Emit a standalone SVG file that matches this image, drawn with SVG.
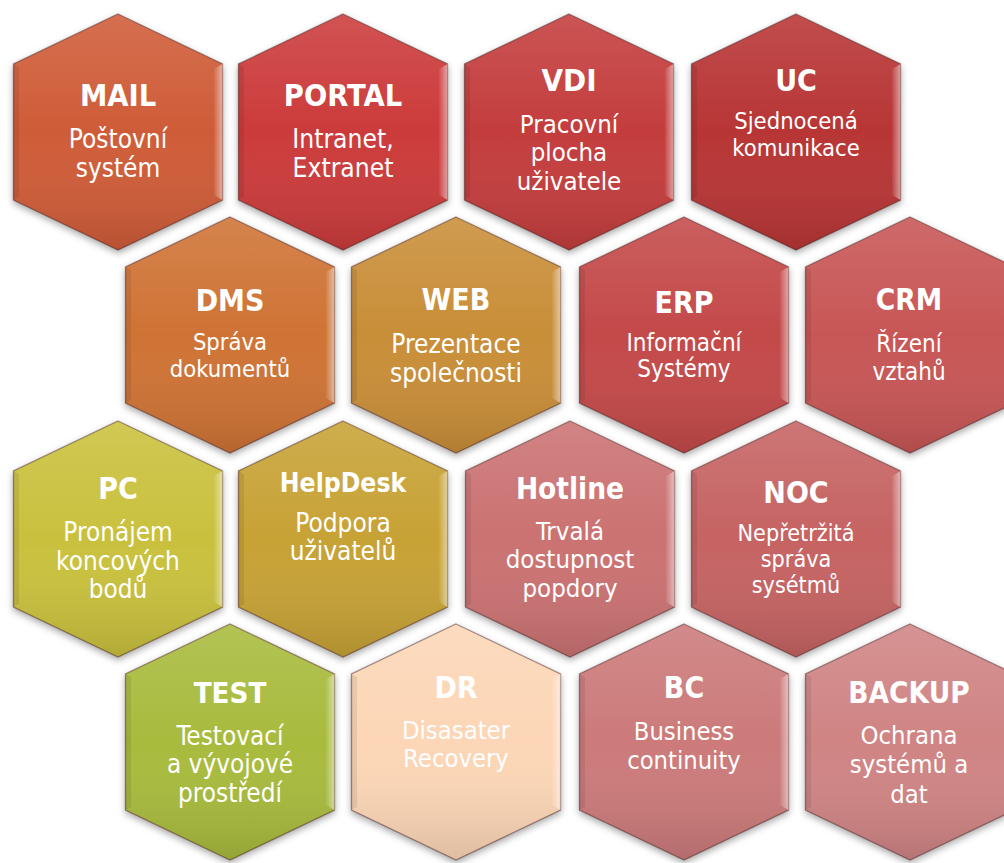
<svg xmlns="http://www.w3.org/2000/svg" xmlns:xlink="http://www.w3.org/1999/xlink" width="1004" height="863" viewBox="0 0 1004 863">
<style>
.t{font-family:"DejaVu Sans Condensed","DejaVu Sans","Liberation Sans",sans-serif;font-stretch:condensed;font-weight:bold;font-size:30px;fill:#fff;text-anchor:middle}
.s{font-family:"DejaVu Sans Condensed","DejaVu Sans","Liberation Sans",sans-serif;font-stretch:condensed;font-size:25px;fill:#fff;text-anchor:middle}
.hx{stroke:#3a1010;stroke-opacity:0.45;stroke-width:1.3;filter:url(#sh)}
</style>
<defs>
<filter id="sh" x="-20%" y="-20%" width="140%" height="140%">
<feDropShadow dx="0" dy="3" stdDeviation="3.5" flood-color="#000" flood-opacity="0.35"/>
</filter>
<linearGradient id="shade" x1="0" y1="0" x2="0" y2="1">
<stop offset="0" stop-color="#fff" stop-opacity="0.12"/>
<stop offset="0.5" stop-color="#fff" stop-opacity="0"/>
<stop offset="1" stop-color="#000" stop-opacity="0.12"/>
</linearGradient>
<linearGradient id="rimg" x1="0" y1="0" x2="1" y2="0">
<stop offset="0" stop-color="#fff" stop-opacity="0.05"/>
<stop offset="1" stop-color="#fff" stop-opacity="0.5"/>
</linearGradient>
<polygon id="hex" points="0,-118 104.5,-68 104.5,68 0,118 -104.5,68 -104.5,-68"/>
<g id="deco">
<polygon points="0,-118 104.5,-68 104.5,68 0,118 -104.5,68 -104.5,-68" fill="url(#shade)"/>
<polygon points="96,-63 104.5,-68 104.5,68 96,63" fill="url(#rimg)"/>
<polygon points="-104.5,-68 -99,-65 -99,65 -104.5,68" fill="#000" fill-opacity="0.08"/>
</g>
</defs>
<rect width="1004" height="863" fill="#fff"/>

<g id="mail">
<use xlink:href="#hex" x="118" y="132" fill="#cf5b37" class="hx"/><use xlink:href="#deco" x="118" y="132"/>
<text class="t" x="118" y="106" style="font-size:30.5px">MAIL</text>
<text class="s" x="118" y="148" style="font-size:26px">Poštovní</text>
<text class="s" x="118" y="177" style="font-size:26px">systém</text>
</g>
<g id="portal">
<use xlink:href="#hex" x="343" y="132" fill="#cc3a3a" class="hx"/><use xlink:href="#deco" x="343" y="132"/>
<text class="t" x="343" y="106" style="font-size:30.5px">PORTAL</text>
<text class="s" x="343" y="148" style="font-size:26.2px">Intranet,</text>
<text class="s" x="343" y="177" style="font-size:26.2px">Extranet</text>
</g>
<g id="vdi">
<use xlink:href="#hex" x="569" y="132" fill="#c43c3c" class="hx"/><use xlink:href="#deco" x="569" y="132"/>
<text class="t" x="569" y="91" style="font-size:31px">VDI</text>
<text class="s" x="569" y="133" style="font-size:25.6px">Pracovní</text>
<text class="s" x="569" y="161" style="font-size:25.6px">plocha</text>
<text class="s" x="569" y="190" style="font-size:25.6px">uživatele</text>
</g>
<g id="uc">
<use xlink:href="#hex" x="796" y="132" fill="#b83434" class="hx"/><use xlink:href="#deco" x="796" y="132"/>
<text class="t" x="796" y="91">UC</text>
<text class="s" x="796" y="129" style="font-size:23.6px">Sjednocená</text>
<text class="s" x="796" y="156" style="font-size:23.6px">komunikace</text>
</g>

<g id="dms">
<use xlink:href="#hex" x="230" y="335" fill="#cf7336" class="hx"/><use xlink:href="#deco" x="230" y="335"/>
<text class="t" x="230" y="311">DMS</text>
<text class="s" x="230" y="350" style="font-size:23.6px">Správa</text>
<text class="s" x="230" y="377" style="font-size:23.6px">dokumentů</text>
</g>
<g id="web">
<use xlink:href="#hex" x="456" y="335" fill="#c98e37" class="hx"/><use xlink:href="#deco" x="456" y="335"/>
<text class="t" x="456" y="310">WEB</text>
<text class="s" x="456" y="353" style="font-size:26px">Prezentace</text>
<text class="s" x="456" y="382" style="font-size:26px">společnosti</text>
</g>
<g id="erp">
<use xlink:href="#hex" x="684" y="335" fill="#c44848" class="hx"/><use xlink:href="#deco" x="684" y="335"/>
<text class="t" x="684" y="313">ERP</text>
<text class="s" x="684" y="351" style="font-size:24px">Informační</text>
<text class="s" x="684" y="377" style="font-size:24px">Systémy</text>
</g>
<g id="crm">
<use xlink:href="#hex" x="910" y="335" fill="#c85656" class="hx"/><use xlink:href="#deco" x="910" y="335"/>
<text class="t" x="909" y="310" style="font-size:29.5px">CRM</text>
<text class="s" x="909" y="352" style="font-size:24px">Řízení</text>
<text class="s" x="909" y="380" style="font-size:24px">vztahů</text>
</g>

<g id="pc">
<use xlink:href="#hex" x="118" y="539" fill="#c9c13e" class="hx"/><use xlink:href="#deco" x="118" y="539"/>
<text class="t" x="118" y="499">PC</text>
<text class="s" x="118" y="541" style="font-size:25.9px">Pronájem</text>
<text class="s" x="118" y="570" style="font-size:25.9px">koncových</text>
<text class="s" x="118" y="598" style="font-size:25.9px">bodů</text>
</g>
<g id="helpdesk">
<use xlink:href="#hex" x="343" y="539" fill="#c7a236" class="hx"/><use xlink:href="#deco" x="343" y="539"/>
<text class="t" x="343" y="492" style="font-size:26.3px">HelpDesk</text>
<text class="s" x="343" y="532" style="font-size:26px">Podpora</text>
<text class="s" x="343" y="560" style="font-size:26px">uživatelů</text>
</g>
<g id="hotline">
<use xlink:href="#hex" x="570" y="539" fill="#cb7272" class="hx"/><use xlink:href="#deco" x="570" y="539"/>
<text class="t" x="570" y="499" style="font-size:29.5px">Hotline</text>
<text class="s" x="570" y="540" style="font-size:25.6px">Trvalá</text>
<text class="s" x="570" y="568" style="font-size:25.6px">dostupnost</text>
<text class="s" x="570" y="597" style="font-size:25.6px">popdory</text>
</g>
<g id="noc">
<use xlink:href="#hex" x="796" y="539" fill="#c66464" class="hx"/><use xlink:href="#deco" x="796" y="539"/>
<text class="t" x="796" y="503">NOC</text>
<text class="s" x="796" y="541" style="font-size:23.2px">Nepřetržitá</text>
<text class="s" x="796" y="567" style="font-size:23.2px">správa</text>
<text class="s" x="796" y="593" style="font-size:23.2px">sysétmů</text>
</g>

<g id="test">
<use xlink:href="#hex" x="230" y="742" fill="#a8bb3c" class="hx"/><use xlink:href="#deco" x="230" y="742"/>
<text class="t" x="230" y="703" style="font-size:29.2px">TEST</text>
<text class="s" x="230" y="745" style="font-size:25.9px">Testovací</text>
<text class="s" x="230" y="773" style="font-size:25.9px">a vývojové</text>
<text class="s" x="230" y="802" style="font-size:25.9px">prostředí</text>
</g>
<g id="dr">
<use xlink:href="#hex" x="456" y="742" fill="#fcd6b6" class="hx"/><use xlink:href="#deco" x="456" y="742"/>
<text class="t" x="456" y="698">DR</text>
<text class="s" x="456" y="739" style="font-size:25.4px">Disasater</text>
<text class="s" x="456" y="767" style="font-size:25.4px">Recovery</text>
</g>
<g id="bc">
<use xlink:href="#hex" x="684" y="742" fill="#cc7a7a" class="hx"/><use xlink:href="#deco" x="684" y="742"/>
<text class="t" x="684" y="698">BC</text>
<text class="s" x="684" y="740" style="font-size:25.3px">Business</text>
<text class="s" x="684" y="769" style="font-size:25.3px">continuity</text>
</g>
<g id="backup">
<use xlink:href="#hex" x="910" y="742" fill="#d08484" class="hx"/><use xlink:href="#deco" x="910" y="742"/>
<text class="t" x="909" y="703" style="font-size:29.5px">BACKUP</text>
<text class="s" x="909" y="744" style="font-size:25.4px">Ochrana</text>
<text class="s" x="909" y="773" style="font-size:25.4px">systémů a</text>
<text class="s" x="909" y="803" style="font-size:25.4px">dat</text>
</g>
</svg>
